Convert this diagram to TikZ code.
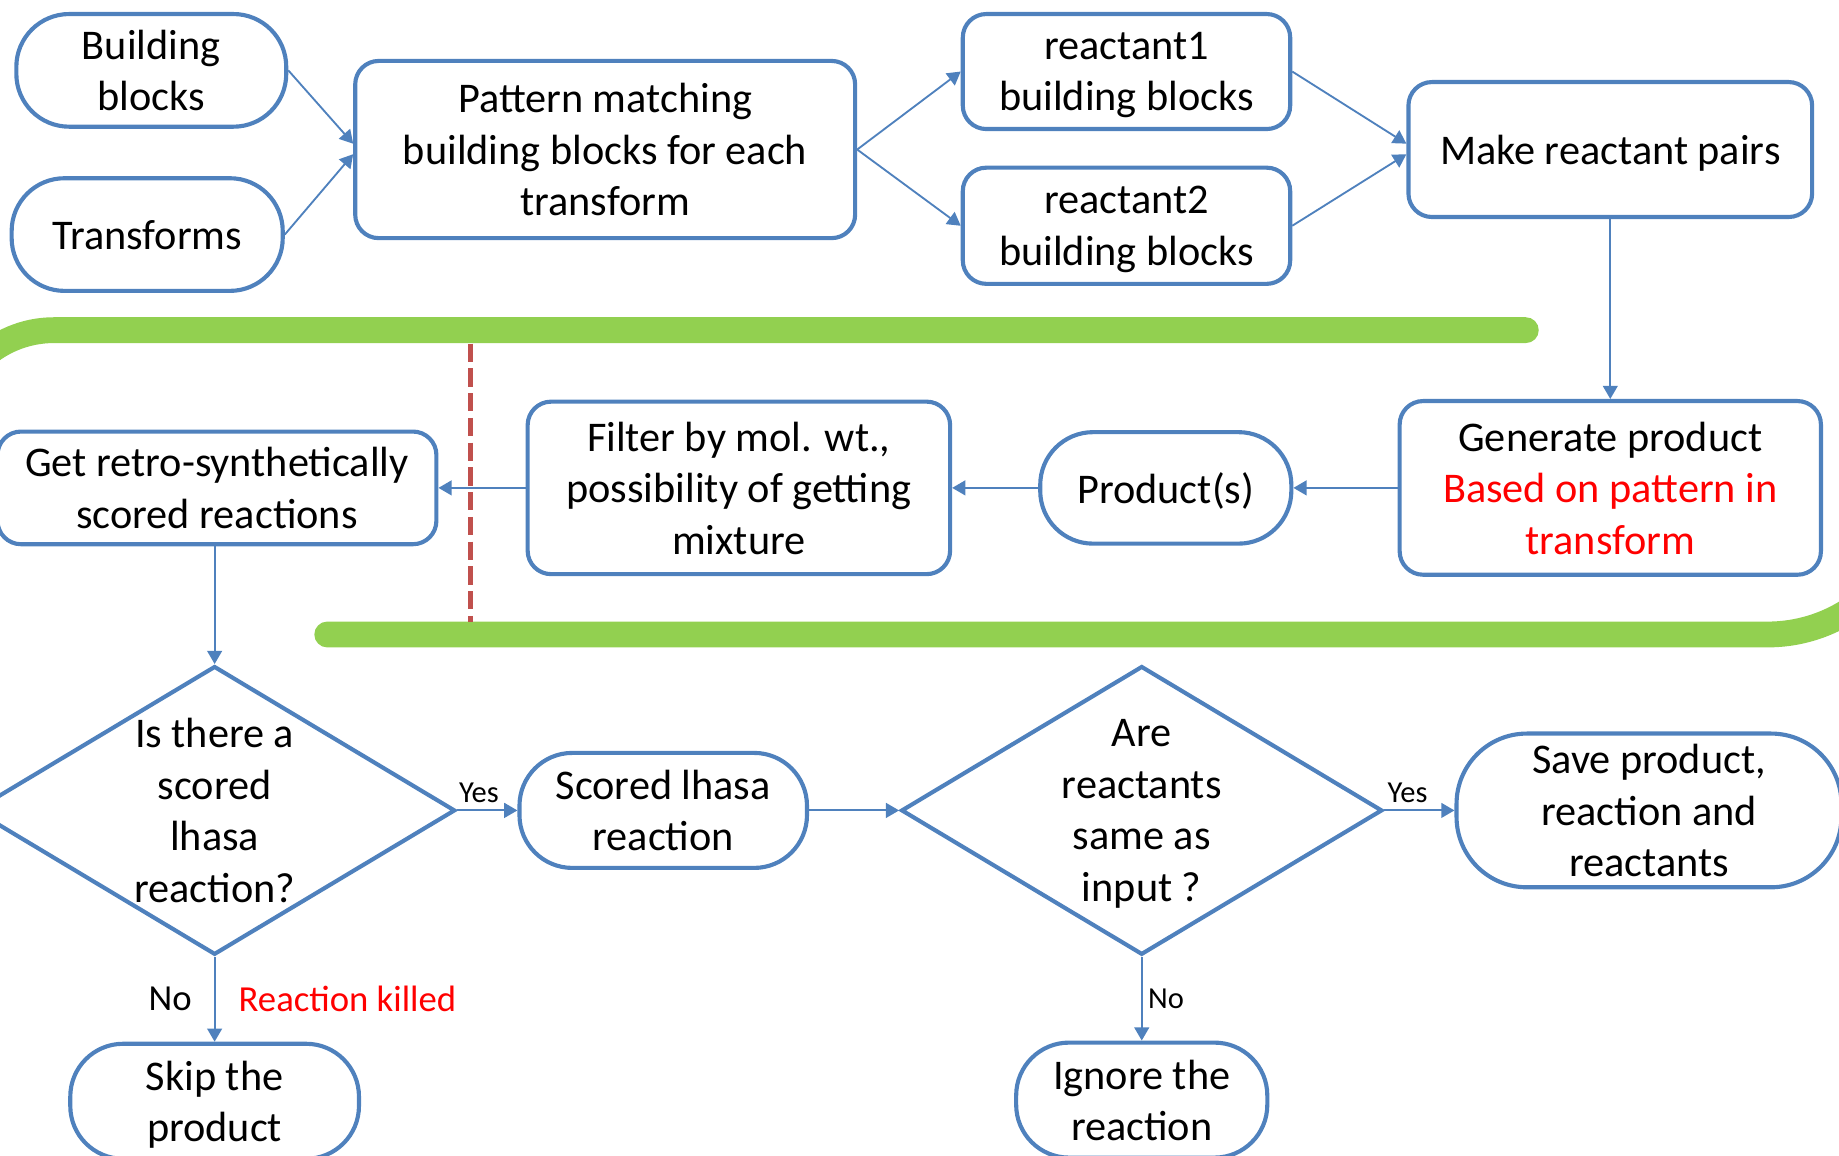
\documentclass[tikz,border=0pt]{standalone}
\usepackage{fontspec}
\setmainfont{Carlito}
\usetikzlibrary{arrows.meta,shapes.geometric}
\definecolor{boxblue}{HTML}{4F81BD}
\definecolor{bandgreen}{HTML}{92D050}
\definecolor{cutred}{HTML}{C0504D}
\definecolor{notered}{HTML}{FF0000}
\newcommand{\boxfont}{\fontsize{10.25}{12.5}\selectfont}
\newcommand{\tagfont}{\fontsize{7.4}{9}\selectfont}
\newcommand{\notefont}{\fontsize{8.9}{11}\selectfont}
\begin{document}
\begin{tikzpicture}[x=0.01cm,y=-0.01cm,
		box/.style={draw=boxblue,line width=1pt,rounded corners=0.2cm,align=center,inner sep=0pt,text depth=0pt,font=\boxfont},
		term/.style={box,rounded corners=0.45cm},
		decide/.style={draw=boxblue,line width=1pt,diamond,inner sep=0pt,minimum width=4.1cm,minimum height=2.46cm},
		asks/.style={align=center,text depth=0pt,font=\boxfont},
		flow/.style={draw=boxblue,line width=0.45pt,-{Triangle[length=3.2pt,width=3.6pt]}},
		band/.style={draw=bandgreen,line width=0.22cm,line cap=round}]
		\useasboundingbox (0,0) rectangle (1568,985);
		\clip (0,0) rectangle (1568,985);
		\draw[band] (1301,281.5) -- (46,281.5) arc[start angle=90,end angle=180,radius=0.91cm] -- ++(0,100);
		\draw[band] (279,541) -- (1507,541) arc[start angle=270,end angle=360,radius=1.29cm] -- ++(0,-100);
		\node[term,minimum width=2.30cm,minimum height=0.96cm] (bb) at (129,60) {Building\\blocks};
		\node[term,minimum width=2.31cm,minimum height=0.96cm] (tf) at (125.5,200) {Transforms};
		\node[box,minimum width=4.26cm,minimum height=1.51cm] (pm) at (516,127.5) {Pattern matching\\building blocks for each\\transform};
		\node[box,minimum width=2.79cm,minimum height=0.98cm] (r1) at (960.5,61) {reactant1\\building blocks};
		\node[box,minimum width=2.79cm,minimum height=0.99cm] (r2) at (960.5,192.5) {reactant2\\building blocks};
		\node[box,minimum width=3.44cm,minimum height=1.15cm] (mrp) at (1373,127.5) {Make reactant pairs};
		\node[box,minimum width=3.59cm,minimum height=1.48cm] (gen) at (1373,416) {Generate product\\\textcolor{notered}{Based on pattern in}\\\textcolor{notered}{transform}};
		\node[term,minimum width=2.14cm,minimum height=0.95cm] (prod) at (994,416) {Product(s)};
		\node[box,minimum width=3.60cm,minimum height=1.47cm] (filt) at (630,416) {Filter by mol. wt.,\\possibility of getting\\mixture};
		\node[box,minimum width=3.74cm,minimum height=0.96cm] (get) at (185,416) {Get retro-synthetically\\scored reactions};
		\node[decide,label={[asks]center:Is there a\\scored\\lhasa\\reaction?}] (d1) at (183,691) {};
		\node[term,minimum width=2.45cm,minimum height=0.98cm] (sl) at (565.5,691) {Scored lhasa\\reaction};
		\node[decide,label={[asks]center:Are\\reactants\\same as\\input ?}] (d2) at (973.5,691) {};
		\node[term,rounded corners=0.6cm,minimum width=3.28cm,minimum height=1.31cm] (save) at (1406,691) {Save product,\\reaction and\\reactants};
		\node[term,minimum width=2.46cm,minimum height=0.98cm] (skip) at (183,939) {Skip the\\product};
		\node[term,minimum width=2.14cm,minimum height=0.98cm] (ign) at (973.5,938) {Ignore the\\reaction};
		\draw[flow] (bb.east) -- ([yshift=0.05cm]pm.west);
		\draw[flow] (tf.east) -- ([yshift=-0.04cm]pm.west);
		\draw[flow] (pm.east) -- (r1.west);
		\draw[flow] (pm.east) -- (r2.west);
		\draw[flow] (r1.east) -- ([yshift=0.05cm]mrp.west);
		\draw[flow] (r2.east) -- ([yshift=-0.04cm]mrp.west);
		\draw[flow] (mrp) -- (gen);
		\draw[flow] (gen) -- (prod);
		\draw[flow] (prod) -- (filt);
		\draw[flow] (filt) -- (get);
		\draw[flow] (d1.north |- get.south) -- (d1.north);
		\draw[flow] (d1) -- node[pos=0.36,above,yshift=-0.06cm,font=\tagfont] {Yes} (sl);
		\draw[flow] (sl) -- (d2);
		\draw[flow] (d2) -- node[pos=0.33,above,yshift=-0.06cm,font=\tagfont] {Yes} (save);
		\draw[flow] (d2) -- node[right,xshift=-0.07cm,font=\tagfont] {No} (ign);
		\draw[flow] (d1) -- node[left,xshift=-0.07cm,font=\notefont] {No} node[right,xshift=0.08cm,font=\notefont,text=notered] {Reaction killed} (skip);
		\draw[cutred,line width=1.3pt,dash pattern=on 4.4pt off 1.6pt] (401,293) -- (401,530);
\end{tikzpicture}
\end{document}
